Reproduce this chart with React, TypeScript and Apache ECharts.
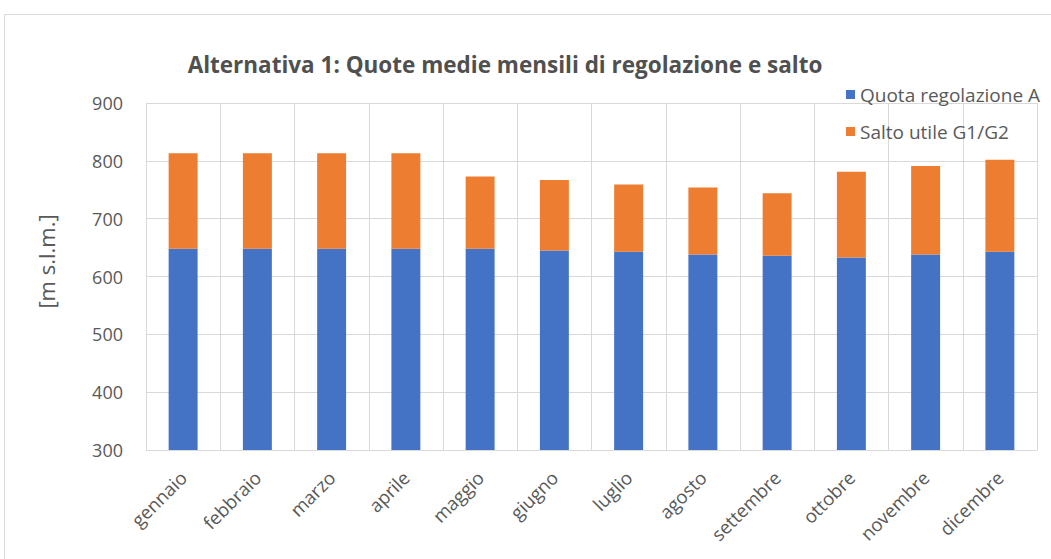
import React, { useEffect, useRef } from "react";
import * as echarts from "echarts";

const months = ["gennaio", "febbraio", "marzo", "aprile", "maggio", "giugno", "luglio", "agosto", "settembre", "ottobre", "novembre", "dicembre"];
const quotaRegolazione = [648, 648, 648, 648, 648, 645, 643, 638, 636, 633, 638, 643];
const saltoUtile = [165, 165, 165, 165, 125, 122, 116, 116, 108, 148, 153, 159];
const yTicks = { min: 300, max: 900, interval: 100 };

const FONT = "'Open Sans', 'Noto Sans', sans-serif";

export default function App() {
  const ref = useRef<HTMLDivElement>(null);
  useEffect(() => {
    document.body.style.margin = "0";
    const chart = echarts.init(ref.current!, null, { renderer: "svg" });
    chart.setOption({
      animation: false,
      backgroundColor: "#ffffff",
      title: {
        text: "Alternativa 1: Quote medie mensili di regolazione e salto",
        left: 500,
        top: 48,
        textAlign: "center",
        textStyle: { fontFamily: FONT, fontSize: 22.5, fontWeight: "bold", color: "#505050" },
      },
      legend: {
        orient: "vertical",
        left: 841,
        top: 80,
        itemWidth: 9,
        itemHeight: 9,
        itemGap: 18,
        icon: "rect",
        textStyle: { fontFamily: FONT, fontSize: 19, color: "#595959" },
        data: ["Quota regolazione A", "Salto utile G1/G2"],
      },
      graphic: [
        {
          type: "rect",
          shape: { x: 4.5, y: 14.5, width: 1100, height: 600 },
          style: { fill: "none", stroke: "#d9d9d9", lineWidth: 1 },
          silent: true,
        },
      ],
      grid: { left: 146, right: 14, top: 103, bottom: 109 },
      xAxis: {
        type: "category",
        data: months,
        axisLine: { lineStyle: { color: "#d9d9d9" } },
        axisTick: { show: false },
        splitLine: { show: true, lineStyle: { color: "#d9d9d9" } },
        axisLabel: { rotate: 45, fontFamily: FONT, fontSize: 18.5, color: "#595959", margin: 24, interval: 0 },
      },
      yAxis: {
        type: "value",
        min: yTicks.min,
        max: yTicks.max,
        interval: yTicks.interval,
        name: "[m s.l.m.]",
        nameLocation: "middle",
        nameRotate: 90,
        nameGap: 89,
        nameTextStyle: { fontFamily: FONT, fontSize: 22, color: "#595959", padding: [0, 0, 0, 30] },
        axisLine: { show: false },
        axisTick: { show: false },
        splitLine: { lineStyle: { color: "#d9d9d9" } },
        axisLabel: { fontFamily: FONT, fontSize: 18, color: "#595959", margin: 23 },
      },
      series: [
        {
          name: "Quota regolazione A",
          type: "bar",
          stack: "tot",
          barWidth: "39%",
          data: quotaRegolazione,
          itemStyle: { color: "#4472c4" },
        },
        {
          name: "Salto utile G1/G2",
          type: "bar",
          stack: "tot",
          barWidth: "39%",
          data: saltoUtile,
          itemStyle: { color: "#ed7d31" },
        },
      ],
    });
    return () => chart.dispose();
  }, []);
  return <div ref={ref} style={{ width: 1051, height: 559 }} />;
}
